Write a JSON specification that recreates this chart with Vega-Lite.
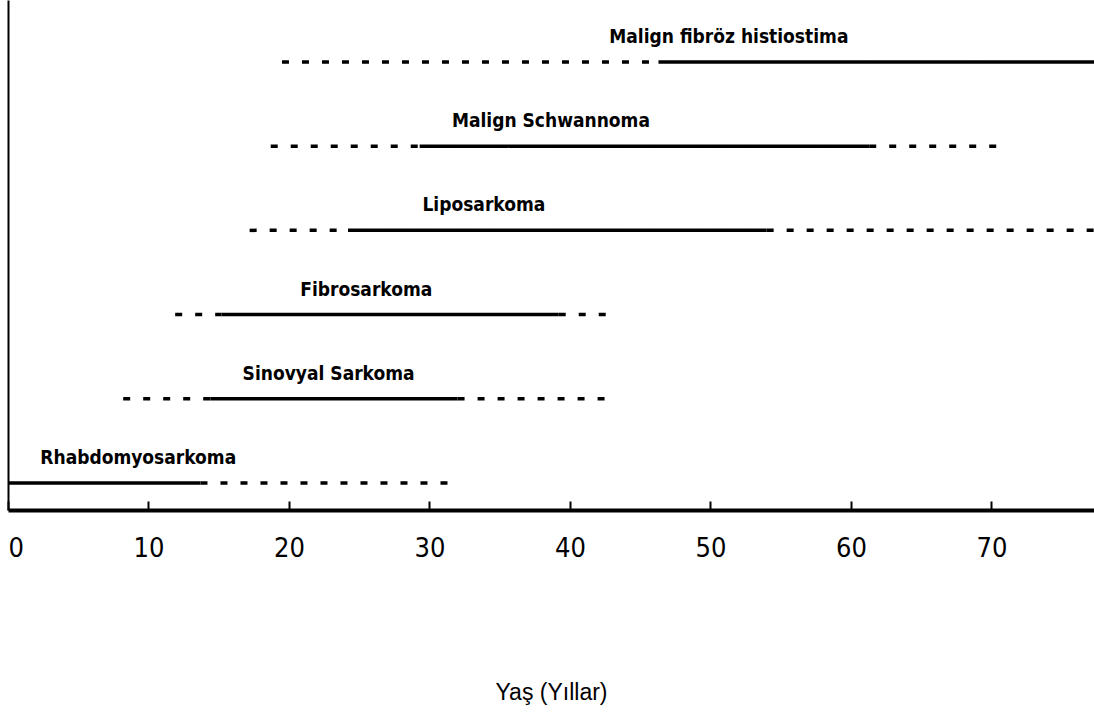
{
  "$schema": "https://vega.github.io/schema/vega-lite/v6.json",
  "width": 1086,
  "height": 510,
  "autosize": {"type": "none"},
  "padding": {"left": 8, "top": 0, "right": 0, "bottom": 206},
  "background": "white",
  "config": {"view": {"stroke": null}},
  "datasets": {
    "segments": [
      {"tumor": "Rhabdomyosarkoma", "row": 1, "start": 0, "end": 13.7, "phase": "sık"},
      {"tumor": "Rhabdomyosarkoma", "row": 1, "start": 13.7, "end": 31.7, "phase": "seyrek"},
      {"tumor": "Sinovyal Sarkoma", "row": 2, "start": 8.2, "end": 14.4, "phase": "seyrek"},
      {"tumor": "Sinovyal Sarkoma", "row": 2, "start": 14.4, "end": 32.0, "phase": "sık"},
      {"tumor": "Sinovyal Sarkoma", "row": 2, "start": 32.0, "end": 43.0, "phase": "seyrek"},
      {"tumor": "Fibrosarkoma", "row": 3, "start": 11.9, "end": 15.2, "phase": "seyrek"},
      {"tumor": "Fibrosarkoma", "row": 3, "start": 15.2, "end": 39.2, "phase": "sık"},
      {"tumor": "Fibrosarkoma", "row": 3, "start": 39.2, "end": 42.6, "phase": "seyrek"},
      {"tumor": "Liposarkoma", "row": 4, "start": 17.2, "end": 24.2, "phase": "seyrek"},
      {"tumor": "Liposarkoma", "row": 4, "start": 24.2, "end": 54.0, "phase": "sık"},
      {"tumor": "Liposarkoma", "row": 4, "start": 54.0, "end": 77.3, "phase": "seyrek"},
      {"tumor": "Malign Schwannoma", "row": 5, "start": 18.7, "end": 29.3, "phase": "seyrek"},
      {"tumor": "Malign Schwannoma", "row": 5, "start": 29.3, "end": 61.3, "phase": "sık"},
      {"tumor": "Malign Schwannoma", "row": 5, "start": 61.3, "end": 71.1, "phase": "seyrek"},
      {"tumor": "Malign fibröz histiostima", "row": 6, "start": 19.5, "end": 46.3, "phase": "seyrek"},
      {"tumor": "Malign fibröz histiostima", "row": 6, "start": 46.3, "end": 77.3, "phase": "sık"}
    ],
    "labels": [
      {"tumor": "Rhabdomyosarkoma", "row": 1, "labelAge": 2.3},
      {"tumor": "Sinovyal Sarkoma", "row": 2, "labelAge": 16.7},
      {"tumor": "Fibrosarkoma", "row": 3, "labelAge": 20.8},
      {"tumor": "Liposarkoma", "row": 4, "labelAge": 29.5},
      {"tumor": "Malign Schwannoma", "row": 5, "labelAge": 31.6},
      {"tumor": "Malign fibröz histiostima", "row": 6, "labelAge": 42.8}
    ]
  },
  "layer": [
    {
      "data": {"name": "segments"},
      "mark": {"type": "rule", "color": "black", "strokeWidth": 3.5, "strokeCap": "butt"},
      "encoding": {
        "x": {
          "field": "start", "type": "quantitative",
          "scale": {"domain": [0, 77.3], "nice": false, "zero": false},
          "axis": {
            "title": "Yaş (Yıllar)",
            "values": [0, 10, 20, 30, 40, 50, 60, 70],
            "grid": false,
            "domainColor": "black", "domainWidth": 4,
            "tickColor": "black", "tickWidth": 2, "tickSize": -9,
            "labelFont": "'DejaVu Sans Condensed', 'Liberation Sans', sans-serif", "labelFontSize": 27, "labelColor": "black",
            "labelPadding": 34, "labelBaseline": "top",
            "titleFont": "Liberation Sans", "titleFontSize": 23, "titleFontWeight": "normal",
            "titleColor": "black", "titlePadding": 120
          }
        },
        "x2": {"field": "end"},
        "y": {
          "field": "row", "type": "quantitative",
          "scale": {"domain": [0.679, 6.736], "nice": false, "zero": false},
          "axis": {"title": null, "labels": false, "ticks": false, "grid": false, "domainColor": "black", "domainWidth": 2}
        },
        "strokeDash": {
          "field": "phase", "type": "nominal",
          "scale": {"domain": ["sık", "seyrek"], "range": [[1, 0], [7, 13]]},
          "legend": null
        }
      }
    },
    {
      "data": {"name": "labels"},
      "mark": {"type": "text", "align": "left", "baseline": "alphabetic", "dy": -19, "font": "'DejaVu Sans Condensed', 'Liberation Sans', sans-serif", "fontWeight": "bold", "fontSize": 19, "color": "black"},
      "encoding": {
        "x": {"field": "labelAge", "type": "quantitative"},
        "y": {"field": "row", "type": "quantitative"},
        "text": {"field": "tumor"}
      }
    }
  ]
}
